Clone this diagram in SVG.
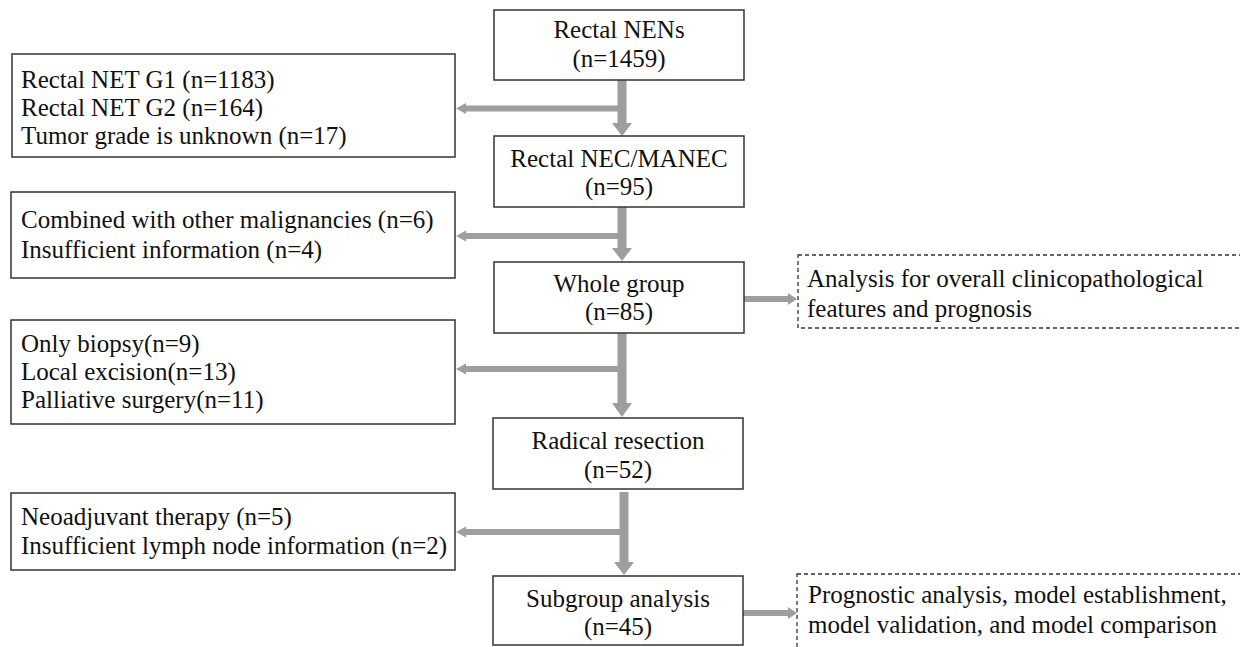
<svg xmlns="http://www.w3.org/2000/svg" width="1240" height="647" viewBox="0 0 1240 647">
<style>
.box{fill:#fff;stroke:#333;stroke-width:1.5}
.dbox{fill:#fff;stroke:#333;stroke-width:1.3;stroke-dasharray:4 3}
text{font-family:'Liberation Serif','Times New Roman',serif;font-size:25px;fill:#111}
.c{text-anchor:middle}
.arr{fill:#9e9e9e;stroke:none}
</style>
<rect width="1240" height="647" fill="#fff"/>
<g id="connectors">
<polygon class="arr" points="617.5,80 626.5,80 626.5,123 632,123 622,136 612,123 617.5,123"/>
<polygon class="arr" points="618,105.5 466,105.5 466,103 456,108.5 466,114 466,111.5 618,111.5"/>
<polygon class="arr" points="617.5,207 626.5,207 626.5,248 632,248 622,261 612,248 617.5,248"/>
<polygon class="arr" points="618,233 466,233 466,230.5 456,236 466,241.5 466,239 618,239"/>
<polygon class="arr" points="617.5,333 626.5,333 626.5,403 632,403 622,417 612,403 617.5,403"/>
<polygon class="arr" points="618,366 466,366 466,363.5 456,369 466,374.5 466,372 618,372"/>
<polygon class="arr" points="619.5,492 628.5,492 628.5,562 634,562 624,575 614,562 619.5,562"/>
<polygon class="arr" points="620,529 466,529 466,526.5 456,532 466,537.5 466,535 620,535"/>
<polygon class="arr" points="744,296 788,296 788,293 797,299 788,305 788,302 744,302"/>
<polygon class="arr" points="743,610 788,610 788,607 797,613 788,619 788,616 743,616"/>
</g>
<g id="n_nens">
<rect class="box" x="494" y="10" width="250" height="70"/>
<text class="c" x="619" y="38">Rectal NENs</text>
<text class="c" x="619" y="67">(n=1459)</text>
</g>
<g id="n_excl1">
<rect class="box" x="12" y="54" width="443" height="103"/>
<text x="21" y="88">Rectal NET G1 (n=1183)</text>
<text x="21" y="116">Rectal NET G2 (n=164)</text>
<text x="21" y="144">Tumor grade is unknown (n=17)</text>
</g>
<g id="n_nec">
<rect class="box" x="494" y="136" width="250" height="71"/>
<text class="c" x="619" y="167">Rectal NEC/MANEC</text>
<text class="c" x="619" y="195">(n=95)</text>
</g>
<g id="n_excl2">
<rect class="box" x="11" y="192" width="444" height="86"/>
<text x="21" y="228">Combined with other malignancies (n=6)</text>
<text x="21" y="258">Insufficient information (n=4)</text>
</g>
<g id="n_whole">
<rect class="box" x="494" y="262" width="250" height="71"/>
<text class="c" x="619" y="292">Whole group</text>
<text class="c" x="619" y="320">(n=85)</text>
</g>
<g id="n_analysis">
<rect class="dbox" x="798" y="255" width="450" height="73"/>
<text x="807" y="287">Analysis for overall clinicopathological</text>
<text x="807" y="317">features and prognosis</text>
</g>
<g id="n_excl3">
<rect class="box" x="11" y="320" width="444" height="104"/>
<text x="21" y="352">Only biopsy(n=9)</text>
<text x="21" y="380">Local excision(n=13)</text>
<text x="21" y="408">Palliative surgery(n=11)</text>
</g>
<g id="n_radical">
<rect class="box" x="493" y="418" width="250" height="71"/>
<text class="c" x="618" y="449">Radical resection</text>
<text class="c" x="618" y="478">(n=52)</text>
</g>
<g id="n_excl4">
<rect class="box" x="11" y="493" width="444" height="77"/>
<text x="21" y="525">Neoadjuvant therapy (n=5)</text>
<text x="21" y="554">Insufficient lymph node information (n=2)</text>
</g>
<g id="n_subgroup">
<rect class="box" x="493" y="576" width="250" height="69"/>
<text class="c" x="618" y="607">Subgroup analysis</text>
<text class="c" x="618" y="635">(n=45)</text>
</g>
<g id="n_prognostic">
<rect class="dbox" x="797" y="574" width="450" height="80"/>
<text x="808" y="603">Prognostic analysis, model establishment,</text>
<text x="808" y="633">model validation, and model comparison</text>
</g>
</svg>
